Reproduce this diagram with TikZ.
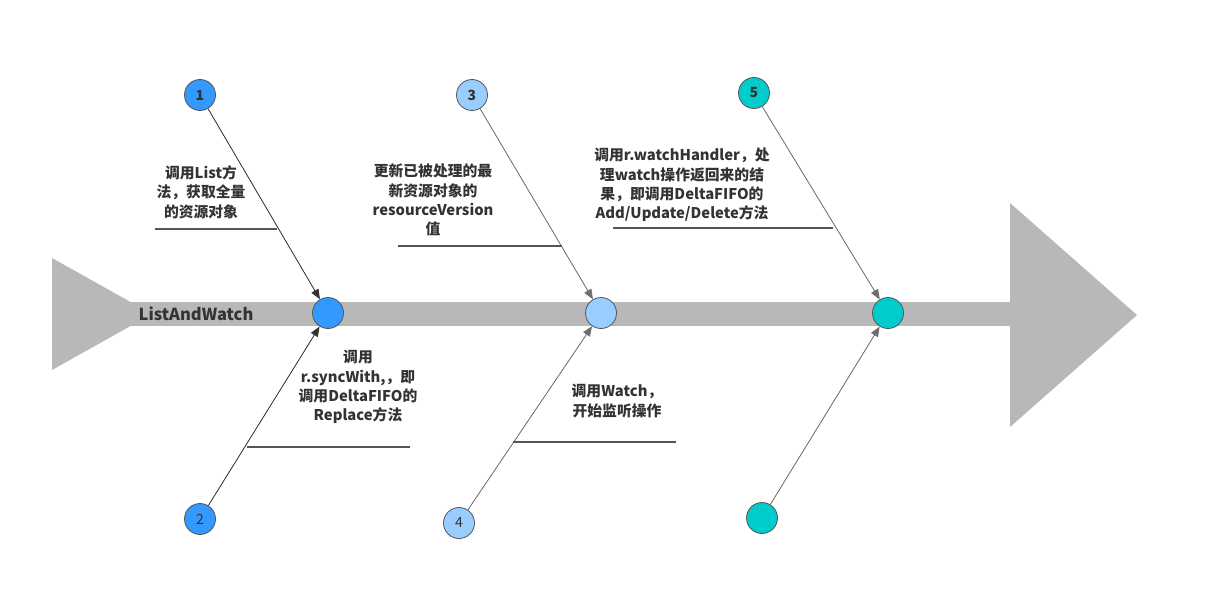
\documentclass[tikz,border=0pt]{standalone}
\usepackage{fontspec}
\setmainfont{Noto Sans CJK SC}
\usetikzlibrary{arrows.meta}
\definecolor{txt}{HTML}{333333}
\definecolor{band}{HTML}{B8B8B8}
\definecolor{edge}{HTML}{555555}
\definecolor{blueA}{HTML}{3399FF}
\definecolor{blueB}{HTML}{99CCFF}
\definecolor{tealC}{HTML}{00CCCC}
\tikzset{
  dot/.style={circle,draw=edge,line width=0.8pt,minimum size=31pt,inner sep=0pt,text=txt,font={\fontsize{14}{14}\selectfont}},
  boldnum/.style={font={\bfseries\fontsize{14}{14}\selectfont}},
  conn/.style={line width=0.8pt,-{Triangle[length=10pt,width=8pt]}},
  lbl/.style={align=center,text=txt,inner sep=0pt,font={\bfseries\fontsize{14.8}{19.3}\selectfont}},
  uline/.style={draw=edge,line width=2pt}
}
\begin{document}
\begin{tikzpicture}[x=1pt,y=-1pt]
\useasboundingbox (0,0) rectangle (1214,610);
% spine
\fill[band] (52,258) -- (52,370) -- (152,314) -- cycle;
\fill[band] (128,302) rectangle (1012,326);
\fill[band] (1010,203) -- (1137,315) -- (1010,427) -- cycle;
\node[font={\bfseries\fontsize{16.5}{16.5}\selectfont},text=txt,inner sep=0pt] (title) at (196,314) {ListAndWatch};
% spine dots
\node[dot,fill=blueA] (c1) at (328,313) {};
\node[dot,fill=blueB] (c3) at (601,313) {};
\node[dot,fill=tealC] (c5) at (888,313) {};
% outer dots
\node[dot,fill=blueA,boldnum] (n1) at (200,95) {1};
\node[dot,fill=blueA] (n2) at (200,519) {2};
\node[dot,fill=blueB,boldnum] (n3) at (472,95) {3};
\node[dot,fill=blueB] (n4) at (459,523) {4};
\node[dot,fill=tealC,boldnum] (n5) at (754,93) {5};
\node[dot,fill=tealC] (n6) at (762,518) {};
% connectors
\draw[conn,draw=txt,fill=txt] (n1) -- (c1);
\draw[conn,draw=txt,fill=txt] (n2) -- (c1);
\draw[conn,draw=edge!85,fill=edge] (n3) -- (c3);
\draw[conn,draw=edge!85,fill=edge] (n4) -- (c3);
\draw[conn,draw=edge!85,fill=edge] (n5) -- (c5);
\draw[conn,draw=edge!85,fill=edge] (n6) -- (c5);
% labels
\node[lbl] (t1) at (201,192) {调用List方\\法，获取全量\\的资源对象};
\draw[uline] (155,229) -- (277,229);
\node[lbl] (t3) at (433,200) {更新已被处理的最\\新资源对象的\\resourceVersion\\值};
\draw[uline] (398,246) -- (562,246);
\node[lbl] (t5) at (682,185) {调用r.watchHandler，处\\理watch操作返回来的结\\果，即调用DeltaFIFO的\\Add/Update/Delete方法};
\draw[uline] (613,228) -- (833,228);
\node[lbl] (t2) at (358,387) {调用\\r.syncWith,，即\\调用DeltaFIFO的\\Replace方法};
\draw[uline] (247,447) -- (410,447);
\node[lbl] (t4) at (617,401) {调用Watch，\\开始监听操作};
\draw[uline] (513,442) -- (676,442);
\end{tikzpicture}
\end{document}
